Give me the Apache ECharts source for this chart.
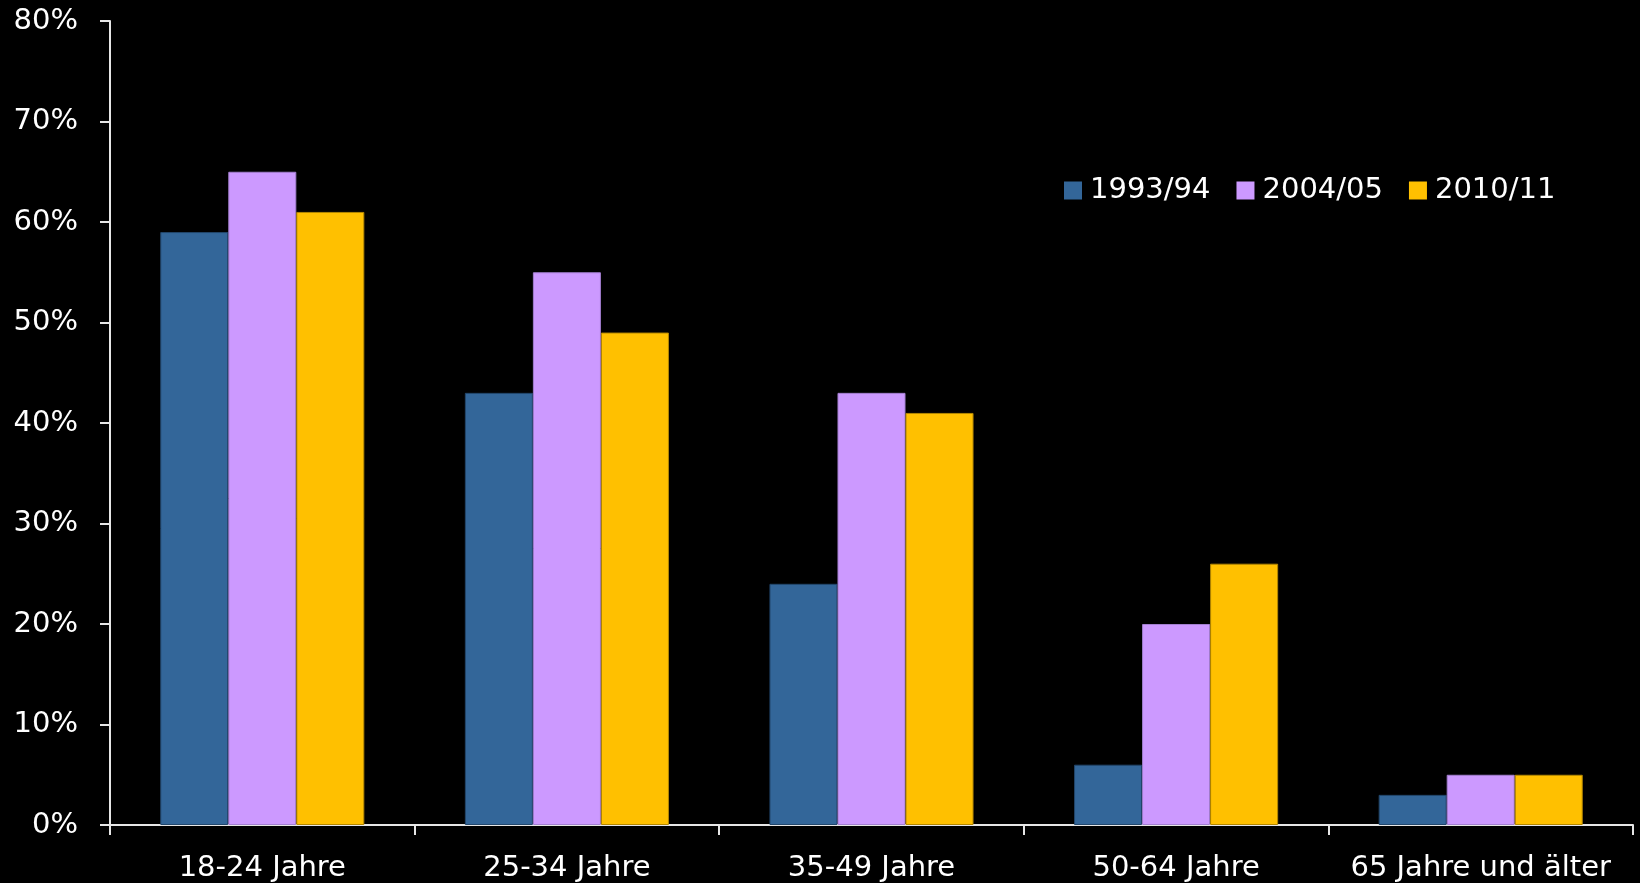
<!DOCTYPE html>
<html><head><meta charset="utf-8">
<script src="https://cdn.jsdelivr.net/npm/echarts@6/dist/echarts.min.js"></script>
<style>html,body{margin:0;padding:0;background:#000;}#c{width:1640px;height:883px;}</style>
</head><body><div id="c"></div>
<script>
const categories = ['18-24 Jahre', '25-34 Jahre', '35-49 Jahre', '50-64 Jahre', '65 Jahre und älter'];
const seriesNames = ['1993/94', '2004/05', '2010/11'];
const s1993 = [59, 43, 24, 6, 3];
const s2004 = [65, 55, 43, 20, 5];
const s2010 = [61, 49, 41, 26, 5];
const yTicks = [0, 10, 20, 30, 40, 50, 60, 70, 80];

const colors = ['#336699', '#CC99FF', '#FFC000'];
const borders = ['#22466b', '#a37fd0', '#b38600'];
const font = 'Tahoma, "DejaVu Sans", sans-serif';
const chart = echarts.init(document.getElementById('c'));
const data = [s1993, s2004, s2010];
chart.setOption({
  backgroundColor: '#000',
  animation: false,
  grid: {left: 110, right: 7, top: 21, bottom: 57, containLabel: false},
  legend: {
    left: 1059, top: 171, itemWidth: 18, itemHeight: 18, itemGap: 26,
    icon: 'rect',
    itemStyle: {borderWidth: 0},
    textStyle: {color: '#fff', fontSize: 29, fontFamily: font, padding: [0,0,0,3]},
    data: seriesNames
  },
  xAxis: {
    type: 'category', data: categories,
    axisLine: {lineStyle: {color: '#e6e6e6', width: 2}},
    axisTick: {show: true, length: 10, lineStyle: {color: '#e6e6e6', width: 2}},
    axisLabel: {color: '#fff', fontSize: 29, fontFamily: font, margin: 29, interval: 0}
  },
  yAxis: {
    type: 'value', min: yTicks[0], max: yTicks[yTicks.length-1], interval: 10,
    axisLine: {show: true, lineStyle: {color: '#e6e6e6', width: 2}},
    axisTick: {show: true, length: 10, lineStyle: {color: '#e6e6e6', width: 2}},
    splitLine: {show: false},
    axisLabel: {color: '#fff', fontSize: 29, fontFamily: font, margin: 32, formatter: v => v + '%'}
  },
  series: seriesNames.map((n, i) => ({
    name: n, type: 'bar', data: data[i],
    barGap: '0%', barCategoryGap: '33%',
    itemStyle: {color: colors[i], borderColor: borders[i], borderWidth: 1}
  }))
});
</script></body></html>
